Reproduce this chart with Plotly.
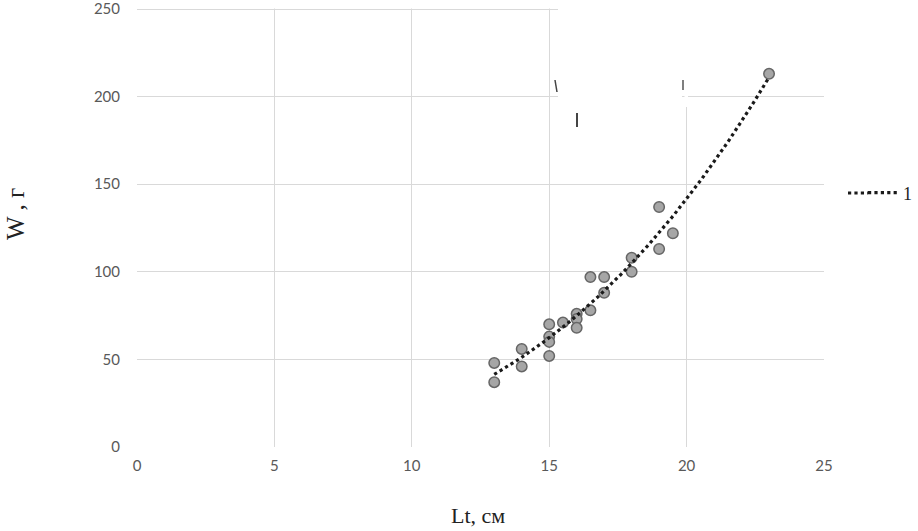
import numpy as np
import plotly.graph_objects as go

# Data
length_cm = [13, 13, 14, 14, 15, 15, 15, 15, 15.5, 16, 16, 16, 16.5, 16.5, 17, 17, 18, 18, 19, 19, 19.5, 23]
weight_g = [37, 48, 56, 46, 70, 63, 60, 52, 71, 76, 73, 68, 97, 78, 97, 88, 108, 100, 113, 137, 122, 213]
x_ticks = [0, 5, 10, 15, 20, 25]
y_ticks = [0, 50, 100, 150, 200, 250]
trend_name = "1"

# Power trendline (Excel-style least squares in log space)
lx = np.log(np.array(length_cm, dtype=float))
ly = np.log(np.array(weight_g, dtype=float))
b, ln_a = np.polyfit(lx, ly, 1)
tx = np.linspace(min(length_cm), max(length_cm), 120)
ty = np.exp(ln_a) * tx ** b

W, H = 918, 531
L_, R_, T_, B_ = 137, 94, 6, 84
pw, ph = W - L_ - R_, H - T_ - B_
y_top = 250 * ph / (H - B_ - 9)  # so that 250 sits at pixel 9

def px(xp):
    return (xp - L_) / pw

def py(yp):
    return (H - B_ - yp) / ph

fig = go.Figure()
fig.add_trace(go.Scatter(
    x=length_cm, y=weight_g, mode="markers", showlegend=False,
    marker=dict(size=10.5, color="#a6a6a6", line=dict(color="#666666", width=1.5)),
))
fig.add_trace(go.Scatter(
    x=tx, y=ty, mode="lines", name=trend_name,
    line=dict(color="#1a1a1a", width=3.2, dash="dot"),
))

grid = "#d9d9d9"
tickfont = dict(family="Lato, Open Sans, sans-serif", size=15, color="#595959")
fig.update_xaxes(
    range=[0, 25], tickvals=x_ticks, showgrid=True, gridcolor=grid, gridwidth=1.3,
    zeroline=False, showline=False, tickfont=tickfont, ticks="",
    automargin=False, ticklabelstandoff=8, ticklabeloverflow="allow",
)
fig.update_yaxes(
    range=[0, y_top], tickvals=y_ticks, showgrid=True, gridcolor=grid, gridwidth=1.3,
    zeroline=False, showline=False, tickfont=tickfont, ticks="",
    automargin=False, ticklabelstandoff=16, ticklabeloverflow="allow",
)

serif = "Liberation Serif, Times New Roman, serif"
annotations = [
    dict(text="Lt, см", xref="paper", yref="paper", x=px(478), y=py(515),
         xanchor="center", yanchor="middle", showarrow=False,
         font=dict(family=serif, size=22, color="#222")),
    dict(text="W , г", xref="paper", yref="paper", x=px(15), y=py(214),
         xanchor="center", yanchor="middle", showarrow=False, textangle=-90,
         font=dict(family=serif, size=25, color="#222")),
]

shapes = [
    # white strip above the plot top (gridlines end at 250)
    dict(type="rect", xref="paper", yref="paper", x0=px(130), x1=px(918), y0=py(8.4), y1=py(-5),
         fillcolor="white", line=dict(width=0), layer="above"),
    # white patches covering erased equation label
    dict(type="rect", xref="paper", yref="paper", x0=px(558), x1=px(918), y0=py(64), y1=py(-5),
         fillcolor="white", line=dict(width=0), layer="above"),
    dict(type="rect", xref="paper", yref="paper", x0=px(558), x1=px(682), y0=py(128), y1=py(60),
         fillcolor="white", line=dict(width=0), layer="above"),
    dict(type="rect", xref="paper", yref="paper", x0=px(684.5), x1=px(688), y0=py(107), y1=py(60),
         fillcolor="white", line=dict(width=0), layer="above"),
    # remnant strokes of the erased label
    dict(type="line", xref="paper", yref="paper", x0=px(555), x1=px(557), y0=py(80), y1=py(92),
         line=dict(color="#444", width=1.5), layer="above"),
    dict(type="line", xref="paper", yref="paper", x0=px(577), x1=px(577), y0=py(113), y1=py(127),
         line=dict(color="#444", width=2), layer="above"),
    dict(type="line", xref="paper", yref="paper", x0=px(683), x1=px(683), y0=py(80), y1=py(90),
         line=dict(color="#555", width=1.5), layer="above"),
    # extension of the legend line sample (reference sample is longer)
    dict(type="line", xref="paper", yref="paper", x0=px(848), x1=px(868), y0=py(193), y1=py(193),
         line=dict(color="#1a1a1a", width=3.2, dash="dot"), layer="above"),
]

fig.update_layout(
    width=W, height=H,
    margin=dict(l=L_, r=R_, t=T_, b=B_, autoexpand=False),
    paper_bgcolor="white", plot_bgcolor="white",
    shapes=shapes, annotations=annotations,
    legend=dict(x=px(863), y=py(193), xanchor="left", yanchor="middle",
                font=dict(family=serif, size=18, color="#222"),
                bgcolor="rgba(0,0,0,0)", itemwidth=30),
)

fig.write_html("out.html", config={"displayModeBar": False},
               post_script="document.body.style.margin='0';")
